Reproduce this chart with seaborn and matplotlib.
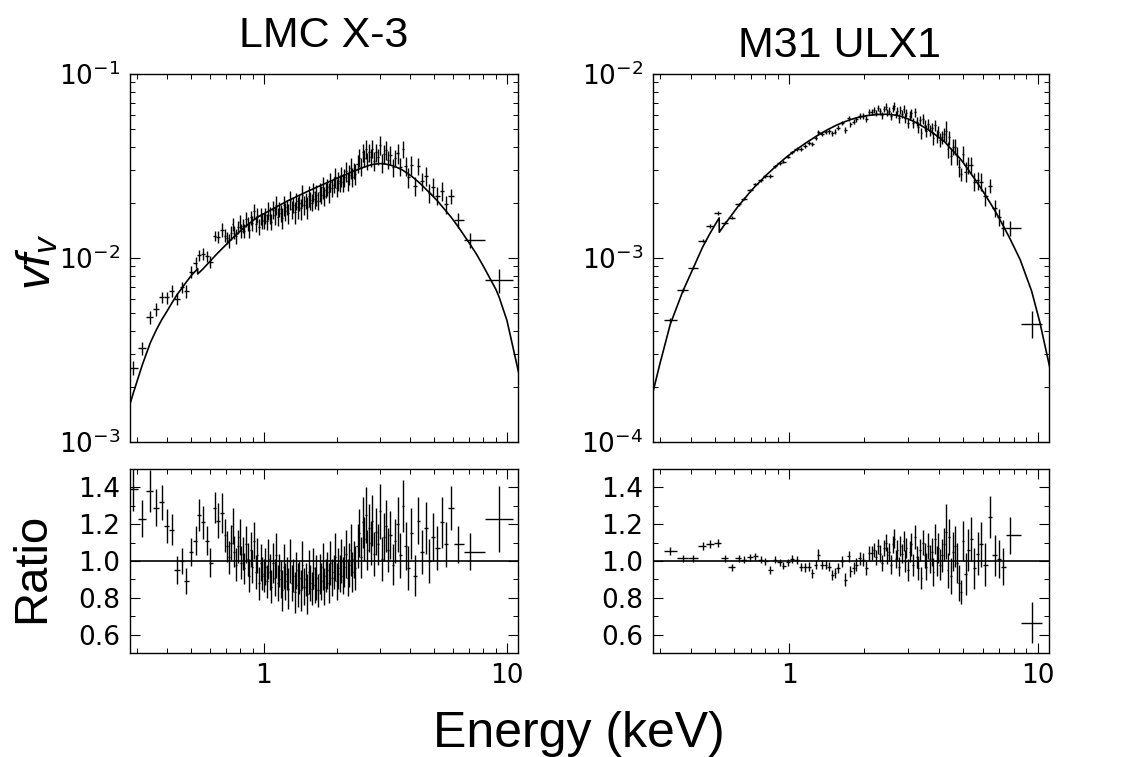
import numpy as np
import pandas as pd
import matplotlib
matplotlib.use("Agg")
import matplotlib.pyplot as plt
import seaborn as sns
from matplotlib.ticker import MultipleLocator, FormatStrFormatter, FuncFormatter, NullFormatter

# ---------------- LMC X-3 ----------------
lmc_energy = [
    0.290, 0.317, 0.342, 0.362, 0.381, 0.400, 0.419, 0.440, 0.463, 0.481,
    0.504, 0.525, 0.542, 0.562, 0.585, 0.604, 0.629, 0.648, 0.676,
    0.692, 0.706, 0.718, 0.731, 0.745, 0.757, 0.770, 0.783, 0.796, 0.808,
    0.820, 0.833, 0.846, 0.859, 0.872, 0.886, 0.899, 0.913, 0.927, 0.941,
    0.956, 0.971, 0.986,
    1.000, 1.015, 1.030, 1.045, 1.060, 1.076, 1.092, 1.108, 1.124, 1.141, 1.158,
    1.175, 1.192, 1.210, 1.228, 1.246, 1.264, 1.283, 1.302, 1.321, 1.341,
    1.361, 1.381, 1.401, 1.422, 1.443, 1.464, 1.486, 1.508, 1.530, 1.553, 1.576,
    1.599, 1.623, 1.647, 1.671, 1.696, 1.721, 1.747, 1.773, 1.799,
    1.826, 1.853, 1.880, 1.908, 1.936, 1.965, 1.994, 2.024, 2.054,
    2.084, 2.115, 2.147, 2.179, 2.211, 2.244, 2.277, 2.311, 2.345, 2.380,
    2.43, 2.47, 2.51, 2.55, 2.59, 2.63, 2.67, 2.71, 2.75,
    2.80, 2.85, 2.90, 2.95, 3.00, 3.06, 3.12,
    3.18, 3.25, 3.32, 3.39, 3.47, 3.55,
    3.64, 3.73, 3.83, 3.93, 4.05, 4.18,
    4.32, 4.47, 4.63, 4.80, 4.98, 5.18, 5.40, 5.62, 5.87,
    6.30, 7.05, 9.27,
]
lmc_ratio = [
    1.39, 1.23, 1.38, 1.29, 1.32, 1.19, 1.17, 0.95, 1.00, 0.89,
    1.05, 1.11, 1.25, 1.21, 1.11, 0.99, 1.29, 1.22, 1.26,
    1.14, 1.08, 1.02, 1.10, 1.19, 1.05, 0.98, 1.08, 1.13, 0.99,
    1.04, 0.96, 1.09, 1.01, 0.92, 1.06, 0.97, 1.11, 0.94, 1.03,
    0.88, 0.99, 0.93,
    0.92, 0.97, 0.89, 1.01, 0.94, 0.86, 0.99, 0.91, 1.03, 0.88, 0.95,
    0.90, 0.84, 0.97, 0.89, 0.93, 0.85, 1.00, 0.88, 0.92, 0.83,
    0.95, 0.87, 0.91, 0.84, 0.98, 0.86, 0.90, 0.82, 0.94, 0.88, 0.85,
    0.96, 0.87, 0.91, 0.84, 0.93, 0.89, 0.97, 0.86, 0.92,
    0.95, 0.88, 0.99, 0.91, 0.94, 1.02, 0.89, 0.96, 0.93,
    1.00, 0.92, 0.97, 1.04, 0.91, 0.98, 1.06, 0.94, 1.01, 0.96,
    1.08, 1.15, 1.02, 1.21, 1.12, 1.25, 1.06, 1.18, 1.10,
    1.22, 1.04, 1.16, 1.09, 1.27, 1.01, 1.13,
    1.19, 1.06, 1.14, 0.98, 1.11, 1.20,
    1.03, 1.30, 1.08, 0.96, 1.15, 0.92,
    1.22, 1.05, 1.18, 1.00, 1.13, 1.07, 1.21, 1.09, 1.29,
    1.09, 1.05, 1.23,
]
lmc_ratio_err = [
    0.12, 0.10, 0.115, 0.10, 0.095, 0.09, 0.085, 0.075, 0.072, 0.072,
    0.075, 0.078, 0.085, 0.09, 0.08, 0.078, 0.085, 0.095, 0.11,
    0.09, 0.085, 0.09, 0.095, 0.10, 0.085, 0.09, 0.09, 0.10, 0.09,
    0.09, 0.085, 0.10, 0.09, 0.09, 0.095, 0.09, 0.10, 0.09, 0.095,
    0.09, 0.10, 0.09,
    0.09, 0.10, 0.09, 0.11, 0.10, 0.09, 0.11, 0.10, 0.12, 0.10, 0.09,
    0.10, 0.11, 0.12, 0.10, 0.09, 0.11, 0.12, 0.10, 0.09, 0.11,
    0.10, 0.12, 0.09, 0.11, 0.13, 0.10, 0.09, 0.11, 0.12, 0.10, 0.09,
    0.11, 0.10, 0.12, 0.09, 0.11, 0.10, 0.13, 0.10, 0.09,
    0.10, 0.11, 0.12, 0.10, 0.09, 0.13, 0.10, 0.11, 0.10,
    0.12, 0.10, 0.11, 0.13, 0.10, 0.12, 0.14, 0.11, 0.10, 0.12,
    0.12, 0.13, 0.11, 0.14, 0.12, 0.15, 0.11, 0.13, 0.12,
    0.14, 0.12, 0.13, 0.11, 0.15, 0.12, 0.13,
    0.14, 0.12, 0.13, 0.11, 0.12, 0.15,
    0.12, 0.14, 0.13, 0.12, 0.14, 0.11,
    0.13, 0.12, 0.14, 0.12, 0.13, 0.12, 0.14, 0.12, 0.12,
    0.10, 0.10, 0.18,
]
# log10 of the model at each data energy
lmc_model_log = [
    -2.74, -2.58, -2.46, -2.39, -2.335, -2.29, -2.245, -2.20, -2.16, -2.13,
    -2.095, -2.07, -2.08, -2.06, -2.035, -2.015, -1.99, -1.972, -1.948,
    -1.935, -1.923, -1.913, -1.903, -1.892, -1.883, -1.874, -1.865, -1.856, -1.848,
    -1.841, -1.833, -1.826, -1.819, -1.812, -1.805, -1.799, -1.792, -1.786, -1.780,
    -1.774, -1.768, -1.764,
    -1.760, -1.755, -1.751, -1.746, -1.742, -1.737, -1.733, -1.728, -1.724, -1.719, -1.714,
    -1.710, -1.705, -1.701, -1.696, -1.691, -1.687, -1.683, -1.679, -1.675, -1.671,
    -1.667, -1.663, -1.659, -1.655, -1.651, -1.647, -1.643, -1.639, -1.635, -1.631, -1.628,
    -1.624, -1.620, -1.616, -1.612, -1.609, -1.605, -1.601, -1.597, -1.594,
    -1.590, -1.586, -1.582, -1.579, -1.575, -1.571, -1.567, -1.564, -1.560,
    -1.557, -1.553, -1.549, -1.546, -1.542, -1.538, -1.535, -1.532, -1.528, -1.525,
    -1.520, -1.516, -1.512, -1.509, -1.506, -1.503, -1.500, -1.497, -1.494,
    -1.492, -1.490, -1.489, -1.488, -1.487, -1.487, -1.488,
    -1.490, -1.492, -1.495, -1.499, -1.503, -1.509,
    -1.516, -1.523, -1.533, -1.543, -1.555, -1.570,
    -1.586, -1.604, -1.624, -1.645, -1.666, -1.690, -1.718, -1.745, -1.775,
    -1.83, -1.925, -2.21,
]
# extra model nodes (ends of the band, O edge)
lmc_line_energy = [0.281, 0.535, 0.5352, 7.5, 8.0, 9.0, 10.0, 11.2]
lmc_line_log = [-2.80, -2.057, -2.087, -1.98, -2.045, -2.17, -2.34, -2.63]

# ---------------- M31 ULX1 ----------------
m31_energy = [
    0.331, 0.372, 0.408, 0.447, 0.479, 0.514, 0.550, 0.586, 0.624, 0.657,
    0.695, 0.728, 0.767, 0.798, 0.836, 0.875, 0.914, 0.946, 0.982, 1.02,
    1.07, 1.11, 1.155, 1.20, 1.236, 1.276, 1.307, 1.358, 1.40, 1.44,
    1.49, 1.52, 1.57, 1.63, 1.68, 1.73, 1.76, 1.82, 1.86, 1.92,
    1.98, 2.04, 2.09, 2.15,
    2.20, 2.24, 2.28, 2.32, 2.36, 2.40, 2.44, 2.48,
    2.52, 2.56, 2.60, 2.64, 2.68, 2.72, 2.76, 2.80, 2.84,
    2.88, 2.92, 2.96, 3.00, 3.05, 3.10, 3.15, 3.20, 3.25,
    3.30, 3.35, 3.40, 3.45, 3.50, 3.56, 3.62, 3.68,
    3.74, 3.80, 3.86, 3.92, 3.98, 4.05, 4.12,
    4.19, 4.26, 4.33, 4.40, 4.48, 4.56,
    4.64, 4.72, 4.81, 4.90, 5.00, 5.12, 5.25,
    5.40, 5.56, 5.73, 5.92, 6.13, 6.43,
    6.70, 6.98, 7.24, 7.73, 9.45,
]
m31_ratio = [
    1.054, 1.015, 1.015, 1.083, 1.094, 1.097, 1.015, 0.966, 1.015, 1.007,
    1.020, 1.025, 1.007, 0.998, 0.949, 1.007, 0.993, 0.975, 0.993, 1.011,
    1.007, 0.966, 0.966, 0.970, 0.934, 0.980, 1.034, 0.980, 0.980, 0.970,
    0.925, 0.934, 0.962, 0.998, 0.898, 1.025, 0.943, 0.962, 0.980, 1.015,
    1.007, 0.962, 1.043, 1.043,
    1.06, 1.02, 1.08, 1.04, 0.99, 1.07, 1.10, 1.03,
    1.05, 0.98, 1.09, 1.12, 1.01, 1.06, 0.97, 1.08, 1.04,
    1.11, 1.00, 1.07, 0.95, 1.05, 1.09, 0.98, 1.13, 1.02,
    0.96, 1.06, 0.91, 1.10, 1.03, 0.97, 1.08, 1.01,
    1.05, 0.94, 1.12, 1.00, 1.07, 0.98, 1.03,
    1.09, 1.16, 0.95, 1.13, 0.92, 1.05,
    1.08, 0.99, 0.88, 0.83, 1.11, 0.93, 1.06,
    1.12, 0.96, 1.04, 1.09, 0.98, 1.24,
    1.03, 1.01, 0.97, 1.14, 0.665,
]
m31_ratio_err = [
    0.022, 0.020, 0.020, 0.022, 0.022, 0.022, 0.020, 0.020, 0.020, 0.018,
    0.018, 0.018, 0.018, 0.020, 0.022, 0.020, 0.020, 0.020, 0.020, 0.022,
    0.022, 0.022, 0.024, 0.024, 0.024, 0.025, 0.030, 0.025, 0.025, 0.026,
    0.028, 0.028, 0.028, 0.030, 0.035, 0.030, 0.032, 0.032, 0.034, 0.035,
    0.036, 0.036, 0.040, 0.040,
    0.040, 0.042, 0.040, 0.045, 0.042, 0.045, 0.048, 0.045,
    0.048, 0.050, 0.048, 0.052, 0.050, 0.055, 0.050, 0.055, 0.052,
    0.055, 0.058, 0.055, 0.060, 0.058, 0.062, 0.060, 0.065, 0.060,
    0.065, 0.062, 0.060, 0.070, 0.068, 0.072, 0.070, 0.075,
    0.075, 0.078, 0.080, 0.082, 0.080, 0.085, 0.088,
    0.090, 0.150, 0.095, 0.100, 0.098, 0.105,
    0.110, 0.108, 0.100, 0.065, 0.110, 0.115, 0.112,
    0.120, 0.110, 0.115, 0.120, 0.118, 0.115,
    0.110, 0.105, 0.100, 0.100, 0.110,
]
m31_model_log = [
    -3.36, -3.18, -3.06, -2.94, -2.865, -2.795, -2.815, -2.765, -2.715, -2.68,
    -2.64, -2.61, -2.58, -2.555, -2.53, -2.505, -2.483, -2.465, -2.447, -2.43,
    -2.41, -2.394, -2.378, -2.363, -2.352, -2.34, -2.331, -2.318, -2.308, -2.299,
    -2.289, -2.283, -2.274, -2.265, -2.258, -2.252, -2.248, -2.242, -2.238, -2.234,
    -2.23, -2.227, -2.225, -2.223,
    -2.222, -2.221, -2.220, -2.219, -2.219, -2.219, -2.219, -2.219,
    -2.220, -2.221, -2.222, -2.223, -2.224, -2.226, -2.228, -2.230, -2.232,
    -2.235, -2.238, -2.241, -2.244, -2.248, -2.252, -2.256, -2.261, -2.266,
    -2.271, -2.276, -2.281, -2.286, -2.291, -2.297, -2.303, -2.310,
    -2.316, -2.322, -2.329, -2.336, -2.343, -2.350, -2.357,
    -2.365, -2.375, -2.386, -2.397, -2.408, -2.418,
    -2.429, -2.440, -2.452, -2.465, -2.480, -2.500, -2.520,
    -2.545, -2.568, -2.595, -2.623, -2.655, -2.700,
    -2.740, -2.782, -2.822, -2.895, -3.18,
]
m31_line_energy = [0.283, 0.30, 0.521, 0.5215, 8.5, 10.2, 11.2]
m31_line_log = [-3.72, -3.58, -2.782, -2.86, -3.01, -3.35, -3.60]

titles = ["LMC X-3", "M31 ULX1"]


def spectrum_frame(energy, ratio, ratio_err, model_log):
    df = pd.DataFrame({"energy": energy, "ratio": ratio,
                       "ratio_err": ratio_err, "model_log": model_log})
    loge = np.log10(df["energy"].values)
    mid = (loge[:-1] + loge[1:]) / 2
    df["e_lo"] = 10 ** np.r_[2 * loge[0] - mid[0], mid]
    df["e_hi"] = 10 ** np.r_[mid, 2 * loge[-1] - mid[-1]]
    df["model"] = 10 ** df["model_log"]
    df["flux"] = df["ratio"] * df["model"]
    df["flux_err"] = df["ratio_err"] * df["model"]
    return df


def model_line(df, extra_e, extra_log):
    line = pd.concat([df[["energy", "model_log"]],
                      pd.DataFrame({"energy": extra_e, "model_log": extra_log})])
    line = line.sort_values("energy").reset_index(drop=True)
    line["model"] = 10 ** line["model_log"]
    return line


sources = [
    (spectrum_frame(lmc_energy, lmc_ratio, lmc_ratio_err, lmc_model_log),
     lmc_line_energy, lmc_line_log, (1e-3, 1e-1)),
    (spectrum_frame(m31_energy, m31_ratio, m31_ratio_err, m31_model_log),
     m31_line_energy, m31_line_log, (1e-4, 1e-2)),
]

sns.set_theme(style="ticks")
plt.rcParams["font.family"] = ["DejaVu Sans"]
plt.rcParams["text.color"] = "black"
plt.rcParams["axes.labelcolor"] = "black"
plt.rcParams["xtick.color"] = "black"
plt.rcParams["ytick.color"] = "black"
plt.rcParams["mathtext.fontset"] = "custom"
plt.rcParams["mathtext.it"] = "Liberation Sans:italic"
plt.rcParams["mathtext.rm"] = "Liberation Sans"

W, H = 1128, 757
fig = plt.figure(figsize=(W / 100, H / 100), dpi=100)

lefts = [130, 653]
widths = [388, 396]
label_font = ["Liberation Sans", "DejaVu Sans"]


def style_axis(ax):
    ax.tick_params(which="both", direction="in", top=True, right=True,
                   colors="black", labelcolor="black", labelsize=19, pad=7)
    ax.tick_params(which="major", length=7, width=0.8)
    ax.tick_params(which="minor", length=3.5, width=0.7)
    for s in ax.spines.values():
        s.set_linewidth(1.0)
        s.set_color("black")


for i, (df, ex_e, ex_log, ylim) in enumerate(sources):
    x0 = lefts[i] / W
    w = widths[i] / W
    ax_top = fig.add_axes([x0, 1 - 442 / H, w, 368 / H])
    ax_bot = fig.add_axes([x0, 1 - 653 / H, w, 184 / H])

    for ax in (ax_top, ax_bot):
        ax.set_xscale("log")
        ax.set_xlim(0.282, 11.1)

    ax_top.set_yscale("log")
    ax_top.set_ylim(*ylim)

    line = model_line(df, ex_e, ex_log)
    sns.lineplot(data=line, x="energy", y="model", ax=ax_top, color="black",
                 lw=1.2, estimator=None, sort=False)
    ax_top.errorbar(df["energy"], df["flux"], yerr=df["flux_err"],
                    xerr=[df["energy"] - df["e_lo"], df["e_hi"] - df["energy"]],
                    fmt="none", ecolor="black", elinewidth=1.0, capsize=0)

    ax_bot.axhline(1.0, color="black", lw=1.2)
    ax_bot.errorbar(df["energy"], df["ratio"], yerr=df["ratio_err"],
                    xerr=[df["energy"] - df["e_lo"], df["e_hi"] - df["energy"]],
                    fmt="none", ecolor="black", elinewidth=1.0, capsize=0)
    ax_bot.set_ylim(0.5, 1.5)
    ax_bot.set_yticks([0.6, 0.8, 1.0, 1.2, 1.4])
    ax_bot.yaxis.set_minor_locator(MultipleLocator(0.1))
    ax_bot.yaxis.set_major_formatter(FormatStrFormatter("%.1f"))
    ax_bot.xaxis.set_major_formatter(FuncFormatter(lambda v, p: f"{v:g}"))
    ax_bot.xaxis.set_minor_formatter(NullFormatter())

    ax_top.tick_params(labelbottom=False)
    for ax in (ax_top, ax_bot):
        ax.set_xlabel("")
        ax.set_ylabel("")
        style_axis(ax)

fig.text(324 / W, 1 - 47 / H, titles[0], fontsize=31, family=label_font,
         color="black", ha="center", va="baseline")
fig.text(840 / W, 1 - 57 / H, titles[1], fontsize=31, family=label_font,
         color="black", ha="center", va="baseline")
fig.text(579 / W, 1 - 747 / H, "Energy (keV)", fontsize=36, family=label_font,
         color="black", ha="center", va="baseline")
fig.text(32 / W, 1 - 568 / H, "Ratio", fontsize=34, family=label_font,
         color="black", rotation=90, ha="center", va="center")
fig.text(38 / W, 1 - 262 / H, r"$\mathit{vf}_{\mathit{v}}$", fontsize=34,
         color="black", rotation=90, ha="center", va="center")

fig.savefig("out.png", dpi=100)
